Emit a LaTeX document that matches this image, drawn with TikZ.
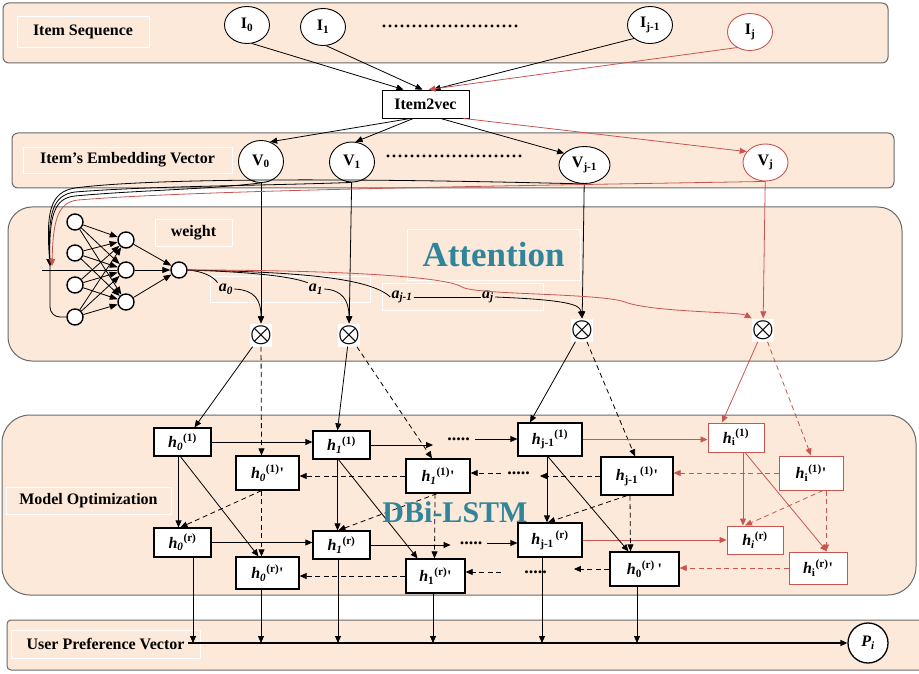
\documentclass[tikz,border=0pt]{standalone}
\usepackage{fontspec}
\setmainfont{Liberation Serif}
\usetikzlibrary{arrows.meta,shapes.geometric}

\definecolor{peach}{RGB}{253,233,217}
\definecolor{panelgray}{RGB}{105,105,105}
\definecolor{seqred}{RGB}{200,85,80}
\definecolor{tealtxt}{RGB}{49,133,155}

\newcommand{\lblfont}{\fontsize{16}{18}\selectfont\bfseries}
\newcommand{\hcell}[2]{\textit{h}\textsubscript{#1}\textsuperscript{(#2)}}
\newcommand{\pr}{\textquotesingle}

\begin{document}
\begin{tikzpicture}[x=1pt,y=-1pt,
  panel/.style={draw=panelgray, fill=peach, line width=1pt},
  lblframe/.style={draw=white, line width=0.8pt},
  lblbox/.style={lblframe, font=\lblfont, inner sep=0pt},
  itemnode/.style={ellipse, draw, fill=white, line width=0.9pt, minimum width=45pt, minimum height=37pt, inner sep=0pt, font=\lblfont},
  neuron/.style={circle, draw, fill=white, line width=1.4pt, minimum size=16pt, inner sep=0pt},
  mult/.style={fill=white, minimum width=22pt, minimum height=23pt, inner sep=0pt, font=\fontsize{25}{25}\selectfont\boldmath},
  cell/.style={draw, fill=white, line width=1.3pt, inner sep=1pt, font=\lblfont},
  rcell/.style={cell, draw=seqred, line width=1pt},
  arr/.style={line width=0.8pt, -{Triangle[length=7pt,width=6pt]}},
  netarr/.style={line width=0.8pt, -{Triangle[length=8pt,width=6pt]}},
  dsh/.style={dash pattern=on 5pt off 3.5pt},
  dotrow/.style={font=\fontsize{18}{18}\selectfont\bfseries, inner sep=0pt},
  wlabel/.style={font=\lblfont\itshape, inner sep=1pt},
  bigteal/.style={text=tealtxt, inner sep=0pt}
]
\useasboundingbox (0,0) rectangle (919,674);

% Panels
\draw[panel, rounded corners=6pt] (3,3) rectangle (888,63);
\draw[panel, rounded corners=6pt] (12,133) rectangle (894,188);
\draw[panel, rounded corners=24pt] (8,207) rectangle (902,361);
\draw[panel, rounded corners=28pt] (2,415) rectangle (916,595);
\draw[panel, rounded corners=4pt] (7,620) rectangle (930,670);

% Panel titles
\node[lblbox, minimum width=132pt, minimum height=31pt] (seqlbl) at (83,31.5) {Item Sequence};
\node[lblbox, minimum width=209pt, minimum height=26pt] (emblbl) at (127.5,160) {Item's Embedding Vector};
\node[lblbox, minimum width=77pt, minimum height=27pt] (wlbl) at (193.5,232.5) {weight};
\node[lblbox, bigteal, minimum width=173pt, minimum height=51pt, font=\fontsize{35}{36}\selectfont\bfseries] (attlbl) at (493.5,254.5) {Attention};
\node[lblbox, minimum width=165pt, minimum height=27pt] (optlbl) at (88.5,500.5) {Model Optimization};
\node[lblbox, minimum width=189pt, minimum height=28pt] (preflbl) at (105.5,644) {User Preference Vector};
\draw[lblframe] (210,276) rectangle (370,302);
\draw[lblframe] (382,283) rectangle (543,310);

% Item sequence
\node[itemnode] (I0) at (247,25) {I\textsubscript{0}};
\node[itemnode] (I1) at (323,27) {I\textsubscript{1}};
\node[dotrow, font=\fontsize{24}{24}\selectfont] (seqdots) at (450,26) {.......................};
\node[itemnode] (Ijm) at (650,25) {I\textsubscript{j-1}};
\node[itemnode, draw=seqred] (Ij) at (750,32) {I\textsubscript{j}};

% Item2vec
\node[draw, fill=white, line width=0.9pt, minimum width=87pt, minimum height=28pt, font=\lblfont] (i2v) at (425.5,104) {Item2vec};

% Embedding vectors
\node[itemnode, minimum height=42pt] (V0) at (261,161.5) {V\textsubscript{0}};
\node[itemnode, minimum height=40pt] (V1) at (352,162) {V\textsubscript{1}};
\node[dotrow, font=\fontsize{24}{24}\selectfont] (embdots) at (454,156) {.......................};
\node[itemnode, minimum width=51pt] (Vjm) at (584.5,165) {V\textsubscript{j-1}};
\node[itemnode, draw=seqred] (Vj) at (765.5,162.5) {V\textsubscript{j}};

% Attention network
\node[neuron] (in1) at (75,222) {};
\node[neuron] (in2) at (75,253) {};
\node[neuron] (in3) at (75,285) {};
\node[neuron] (in4) at (75,317) {};
\node[neuron] (hid1) at (126,240) {};
\node[neuron] (hid2) at (126,270) {};
\node[neuron] (hid3) at (126,302) {};
\node[neuron] (out) at (179,270) {};
\coordinate (netin) at (50,266);
\coordinate (netbar) at (42,270);

% Products
\node[mult] (o0) at (261,335) {$\otimes$};
\node[mult] (o1) at (349,335) {$\otimes$};
\node[mult] (ojm) at (582,330) {$\otimes$};
\node[mult] (oj) at (763,330) {$\otimes$};

% Weights
\node[wlabel] (a0) at (226,289) {a\textsubscript{0}};
\node[wlabel] (a1) at (316,289) {a\textsubscript{1}};
\node[wlabel] (ajm) at (402,297) {a\textsubscript{j-1}};
\node[wlabel] (aj) at (488,297) {a\textsubscript{j}};

% LSTM cells
\node[cell, minimum width=57pt, minimum height=28pt] (h01) at (182.5,442) {\hcell{\textit{0}}{1}};
\node[cell, minimum width=57pt, minimum height=28pt] (h11) at (341.5,445) {\hcell{\textit{1}}{1}};
\node[cell, minimum width=64pt, minimum height=33pt] (hj1) at (550,439.5) {\hcell{j-1}{1}};
\node[rcell, minimum width=56pt, minimum height=29pt] (hi1) at (736,437.5) {\hcell{i}{1}};
\node[cell, minimum width=63pt, minimum height=34pt] (h01p) at (267.5,473) {\hcell{\textit{0}}{1}\pr};
\node[cell, minimum width=64pt, minimum height=34pt] (h11p) at (438,476) {\hcell{\textit{1}}{1}\pr};
\node[cell, minimum width=72pt, minimum height=38pt] (hj1p) at (637,476) {\hcell{j-1\,}{1}\pr};
\node[rcell, minimum width=64pt, minimum height=34pt] (hi1p) at (811,473) {\hcell{i}{1}\pr};
\node[cell, minimum width=57pt, minimum height=29pt] (h0r) at (182.5,542.5) {\hcell{\textit{0}}{r}};
\node[cell, minimum width=57pt, minimum height=28pt] (h1r) at (341.5,545) {\hcell{\textit{1}}{r}};
\node[cell, minimum width=64pt, minimum height=34pt] (hjr) at (550,540) {\hcell{j-1\,}{r}};
\node[rcell, minimum width=56pt, minimum height=28pt] (hir) at (755,540) {\hcell{\textit{i}}{r}};
\node[cell, minimum width=63pt, minimum height=32pt] (h0rp) at (267.5,573) {\hcell{\textit{0}}{r}\pr};
\node[cell, minimum width=59pt, minimum height=34pt] (h1rp) at (435.5,576) {\hcell{1}{r}\pr};
\node[cell, minimum width=69pt, minimum height=34pt] (hjrp) at (644.5,569) {\hcell{0}{r}\,\pr};
\node[rcell, minimum width=58pt, minimum height=32pt] (hirp) at (818,568) {\hcell{i}{r}\pr};
\node[dotrow] (dots1) at (458.5,439) {.....};
\node[dotrow] (dots2) at (518.5,473) {.....};
\node[dotrow] (dots3) at (471,543) {.....};
\node[dotrow] (dots4) at (535.5,572) {.....};

% Output
\node[circle, draw, line width=1.3pt, fill=white, minimum size=40pt, inner sep=0pt, font=\lblfont] (Pi) at (868,643) {\textit{P}\textsubscript{\textit{i}}};
\coordinate (ustart) at (188,643);

% Item sequence -> Item2vec -> vectors
\draw[arr] (I0.-75) -- ([xshift=-22pt]i2v.north);
\draw[arr] (I1.-80) -- ([xshift=-3pt]i2v.north);
\draw[arr] (Ijm.-140) -- ([xshift=8pt]i2v.north);
\draw[arr, seqred] (Ij.-130) -- ([xshift=3pt]i2v.north);
\draw[arr] ([xshift=-15pt]i2v.south) -- (V0.65);
\draw[arr] ([xshift=-12pt]i2v.south) -- (V1.80);
\draw[arr] ([xshift=15pt]i2v.south) -- (Vjm.150);
\draw[arr, seqred] ([xshift=-6pt]i2v.south east) -- (Vj.150);

% Vectors -> attention
\draw[arr] (V0) -- (o0);
\draw[arr] (V1) -- (o1);
\draw[arr] (Vjm) -- (ojm);
\draw[arr, seqred] (Vj) -- (oj);
\draw[arr] (Vjm.south) .. controls (350,178) and (150,178) .. (75,188)
  .. controls (50,192) and (46,212) .. (netin);
\draw[arr] (V1.south) .. controls (250,186) and (150,186) .. (75,192)
  .. controls (52,195) and (48,214) .. (netin);
\draw[arr] (V0.south) .. controls (200,190) and (140,190) .. (75,196)
  .. controls (54,198) and (49,216) .. (netin);
\draw[arr, seqred] (Vj.south) .. controls (500,186) and (200,190) .. (78,200)
  .. controls (58,202) and (53,220) .. ([xshift=2pt]netin);

% Network
\draw[line width=0.8pt] (netbar) -- (hid2);
\draw[line width=0.8pt, rounded corners=10pt] (netin) |- (in4.west);
\foreach \i in {1,...,4}
  \foreach \k in {1,2,3}
    \draw[netarr] (in\i) -- (hid\k);
\foreach \k in {1,2,3}
  \draw[netarr] (hid\k) -- (out);

% Weights to products
\draw[line width=0.8pt] (out.east) .. controls (200,271) and (212,275) .. (a0.north west);
\draw[arr] (a0.east) .. controls (255,290) and (261,300) .. (o0.north);
\draw[line width=0.8pt] (out.east) .. controls (250,272) and (290,276) .. (a1.north west);
\draw[arr] (a1.east) .. controls (342,290) and (349,300) .. (o1.north);
\draw[line width=0.8pt] (out.east) .. controls (300,272) and (370,278) .. (ajm.west);
\draw[line width=0.8pt] (ajm.east) -- (aj.west);
\draw[arr] (aj.east) .. controls (570,300) and (580,305) .. (ojm.north);
\draw[arr, seqred] (out.east) .. controls (330,270) and (445,276) .. (462,287)
  .. controls (475,295) and (600,293) .. (625,302) .. controls (650,312) and (740,312) .. (oj.north west);

% Products -> LSTM
\draw[arr] (o0) -- ([xshift=12pt]h01.north);
\draw[arr, dsh] (o0) -- ([xshift=-6pt]h01p.north);
\draw[arr] (o1) -- ([xshift=-4pt]h11.north);
\draw[arr, dsh] (o1) -- ([xshift=-6pt]h11p.north);
\draw[arr] (ojm) -- ([xshift=-20pt]hj1.north);
\draw[arr, dsh] (ojm) -- ([xshift=-2pt]hj1p.north);
\draw[arr, seqred] (oj) -- ([xshift=-14pt]hi1.north);
\draw[arr, dsh, seqred] (oj) -- (hi1p.north);

% Forward rows
\draw[arr] (h01.east) -- (h01.east -| h11.west);
\draw[arr, shorten >=14pt] (h11.east) -- (h11.east -| dots1.west);
\draw[arr, shorten <=5pt] (dots1.east) -- (dots1.east -| hj1.west);
\draw[arr, seqred] (hj1.east) -- (hj1.east -| hi1.west);
\draw[arr] (h0r.east) -- (h0r.east -| h1r.west);
\draw[arr, shorten >=9pt] (h1r.east) -- (h1r.east -| dots3.west);
\draw[arr, shorten <=5pt] (dots3.east) -- (dots3.east -| hjr.west);
\draw[arr, seqred] (hjr.east) -- (hjr.east -| hir.west);

% Backward rows
\draw[arr, dsh] (h11p.west) -- (h11p.west -| h01p.east);
\draw[arr, dsh, shorten <=6pt] (dots2.west) -- (dots2.west -| h11p.east);
\draw[arr, dsh, shorten >=10pt] (hj1p.west) -- (hj1p.west -| dots2.east);
\draw[arr, dsh, seqred] (hi1p.west) -- (hi1p.west -| hj1p.east);
\draw[arr, dsh] (h1rp.west) -- (h1rp.west -| h0rp.east);
\draw[arr, dsh, shorten <=23pt] (dots4.west) -- (dots4.west -| h1rp.east);
\draw[arr, dsh, shorten >=27pt] (hjrp.west) -- (hjrp.west -| dots4.east);
\draw[arr, dsh, seqred] (hirp.west) -- (hirp.west -| hjrp.east);

% Columns
\draw[arr] ([xshift=-4pt]h01.south) -- ([xshift=-4pt]h0r.north);
\draw[arr] ([xshift=-2pt]h01.south) -- ([xshift=-9pt]h0rp.north);
\draw[arr, dsh] ([xshift=-6pt]h01p.south) -- ([xshift=-6pt]h0rp.north);
\draw[arr, dsh] ([xshift=-6pt]h01p.south) -- ([xshift=-2pt]h0r.north);
\draw[arr] ([xshift=-4pt]h11.south) -- ([xshift=-4pt]h1r.north);
\draw[arr] ([xshift=-3pt]h11.south) -- ([xshift=-18pt]h1rp.north);
\draw[arr, dsh] ([xshift=-3pt]h11p.south) -- ([xshift=-1pt]h1rp.north);
\draw[arr, dsh] ([xshift=-1pt]h11p.south) -- ([xshift=-3pt]h1r.north);
\draw[arr] ([xshift=-3pt]hj1.south) -- ([xshift=-3pt]hjr.north);
\draw[arr] ([xshift=-2pt]hj1.south) -- ([xshift=-16pt]hjrp.north);
\draw[arr, dsh] ([xshift=-7pt]hj1p.south) -- ([xshift=-14pt]hjrp.north);
\draw[arr, dsh] ([xshift=-10pt]hj1p.south) -- ([xshift=-2pt]hjr.north);
\draw[arr, seqred] ([xshift=7pt]hi1.south) -- ([xshift=-12pt]hir.north);
\draw[arr, seqred] ([xshift=9pt]hi1.south) -- ([xshift=9pt]hirp.north);
\draw[arr, dsh, seqred] ([xshift=15pt]hi1p.south) -- ([xshift=8pt]hirp.north);
\draw[arr, dsh, seqred] ([xshift=12pt]hi1p.south) -- ([xshift=-10pt]hir.north);

% To user preference
\draw[arr] ([xshift=10.5pt]h0r.south) -- ([xshift=10.5pt]h0r.south |- ustart);
\draw[arr] ([xshift=-6.5pt]h0rp.south) -- ([xshift=-6.5pt]h0rp.south |- ustart);
\draw[arr] ([xshift=-3.5pt]h1r.south) -- ([xshift=-3.5pt]h1r.south |- ustart);
\draw[arr] ([xshift=-2.5pt]h1rp.south) -- ([xshift=-2.5pt]h1rp.south |- ustart);
\draw[arr] ([xshift=-8pt]hjr.south) -- ([xshift=-8pt]hjr.south |- ustart);
\draw[arr] ([xshift=-7.5pt]hjrp.south) -- ([xshift=-7.5pt]hjrp.south |- ustart);
\draw[arr, line width=1.3pt] (ustart) -- (Pi);

% Title of the LSTM block
\node[bigteal, font=\fontsize{30}{32}\selectfont\bfseries] (dbi) at (455,512) {DBi-LSTM};
\end{tikzpicture}
\end{document}
